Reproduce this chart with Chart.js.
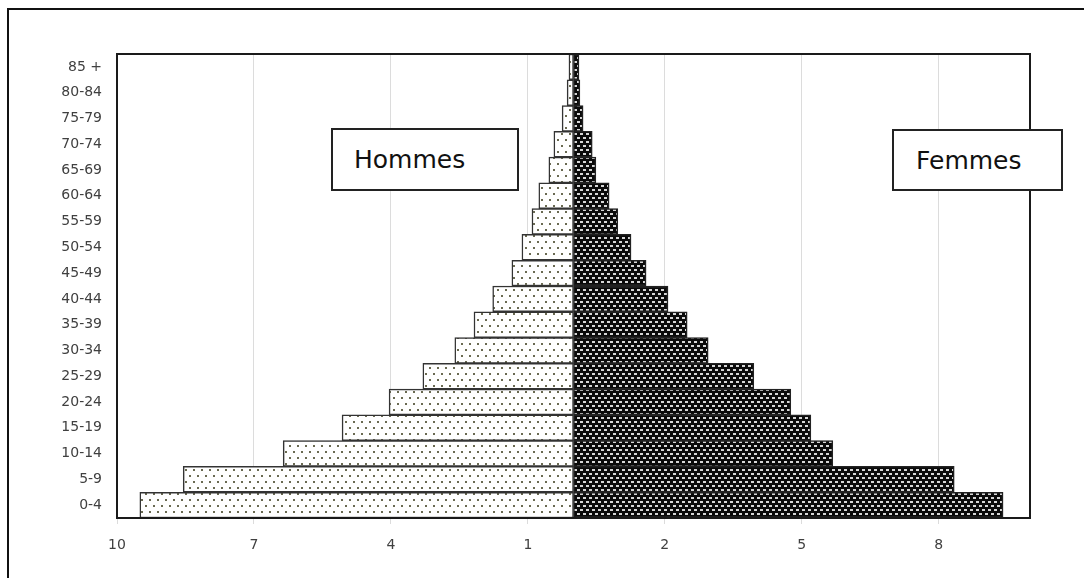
<!DOCTYPE html>
<html>
<head>
<meta charset="utf-8">
<script src="https://cdn.jsdelivr.net/npm/chart.js@4.4.1/dist/chart.umd.min.js"></script>
<style>
  html, body { margin: 0; padding: 0; background: #fff; overflow: hidden; }
  #wrap { position: relative; width: 1084px; height: 578px; }
  #frame {
    position: absolute; left: 7px; top: 8px; width: 1100px; height: 600px;
    border: 2px solid #111; box-sizing: border-box; pointer-events: none;
  }
  .label_box {
    position: absolute; background: #fff; border: 2px solid #222;
    box-sizing: border-box; font-family: "DejaVu Sans", sans-serif;
    font-size: 25px; color: #111; line-height: 59px;
  }
</style>
</head>
<body>
<div id="wrap">
  <canvas id="pyramid"></canvas>
  <div id="frame"></div>
  <div class="label_box" style="left:331px; top:128px; width:188px; height:63px; padding-left:21px;">Hommes</div>
  <div class="label_box" style="left:892px; top:129px; width:171px; height:62px; padding-left:22px;">Femmes</div>
</div>
<script>
// age groups, bottom to top
const ageGroups = ["0-4", "5-9", "10-14", "15-19", "20-24", "25-29", "30-34", "35-39", "40-44",
  "45-49", "50-54", "55-59", "60-64", "65-69", "70-74", "75-79", "80-84", "85 +"];
const hommes = [9.50, 8.55, 6.36, 5.07, 4.04, 3.30, 2.60, 2.18, 1.77, 1.35, 1.13, 0.91, 0.76, 0.54, 0.43, 0.25, 0.14, 0.10];
const femmes = [9.41, 8.34, 5.68, 5.20, 4.76, 3.95, 2.95, 2.49, 2.07, 1.59, 1.26, 0.97, 0.78, 0.49, 0.41, 0.21, 0.14, 0.12];
const xTicks = [-10, -7, -4, -1, 2, 5, 8];

window.onload = init;

function makePattern(w, h, draw) {
  let c = document.createElement("canvas");
  c.width = w;
  c.height = h;
  draw(c.getContext("2d"));
  return c.getContext("2d").createPattern(c, "repeat");
}

function dotPattern() {
  return makePattern(8, 12, function (g) {
    g.fillStyle = "#fff";
    g.fillRect(0, 0, 8, 12);
    g.fillStyle = "#6a6a52";
    g.fillRect(1, 1, 2, 2);
    g.fillRect(5, 7, 2, 2);
  });
}

function checkPattern() {
  return makePattern(6, 8, function (g) {
    g.fillStyle = "#0a0a0a";
    g.fillRect(0, 0, 6, 8);
    g.fillStyle = "#d6d6d6";
    g.fillRect(1, 1, 3, 2);
    g.fillRect(4, 5, 3, 2);
    g.fillRect(-2, 5, 3, 2);
  });
}

const plotFrame = {
  id: "plotFrame",
  afterDatasetsDraw(chart) {
    let a = chart.chartArea;
    let ctx = chart.ctx;
    ctx.save();
    ctx.strokeStyle = "#1a1a1a";
    ctx.lineWidth = 2;
    ctx.strokeRect(a.left, a.top, a.right - a.left, a.bottom - a.top);
    ctx.restore();
  },
};

function init() {
  const ctx = document.getElementById("pyramid");
  ctx.width = 1084;
  ctx.height = 578;

  new Chart(ctx, {
    type: "bar",
    data: {
      labels: ageGroups,
      datasets: [
        {
          label: "Hommes",
          data: hommes.map((v) => -v),
          backgroundColor: dotPattern(),
          borderColor: "#333",
          borderWidth: 1.5,
          borderSkipped: false,
        },
        {
          label: "Femmes",
          data: femmes,
          backgroundColor: checkPattern(),
          borderColor: "#222",
          borderWidth: 1.5,
          borderSkipped: false,
        },
      ],
    },
    options: {
      indexAxis: "y",
      responsive: false,
      animation: false,
      barPercentage: 1,
      categoryPercentage: 1,
      layout: { padding: { left: 0, top: 54, right: 54, bottom: 0 } },
      plugins: {
        legend: { display: false },
        tooltip: { enabled: false },
      },
      scales: {
        x: {
          stacked: true,
          min: -10,
          max: 10,
          afterBuildTicks: function (scale) {
            scale.ticks = xTicks.map((v) => ({ value: v }));
          },
          afterFit: function (scale) {
            scale.height = 60;
          },
          grid: { color: "#dcdcdc", lineWidth: 1, tickLength: 6 },
          border: { display: false },
          ticks: {
            padding: 13,
            color: "#404040",
            font: { family: "DejaVu Sans", size: 14 },
            maxRotation: 0,
            callback: (value) => Math.abs(value),
          },
        },
        y: {
          stacked: true,
          reverse: true,
          afterFit: function (scale) {
            scale.width = 117;
          },
          grid: { display: false, drawTicks: false },
          border: { display: false },
          ticks: {
            padding: 15,
            color: "#404040",
            font: { family: "DejaVu Sans", size: 14 },
            autoSkip: false,
          },
        },
      },
    },
    plugins: [plotFrame],
  });
}
</script>
</body>
</html>
